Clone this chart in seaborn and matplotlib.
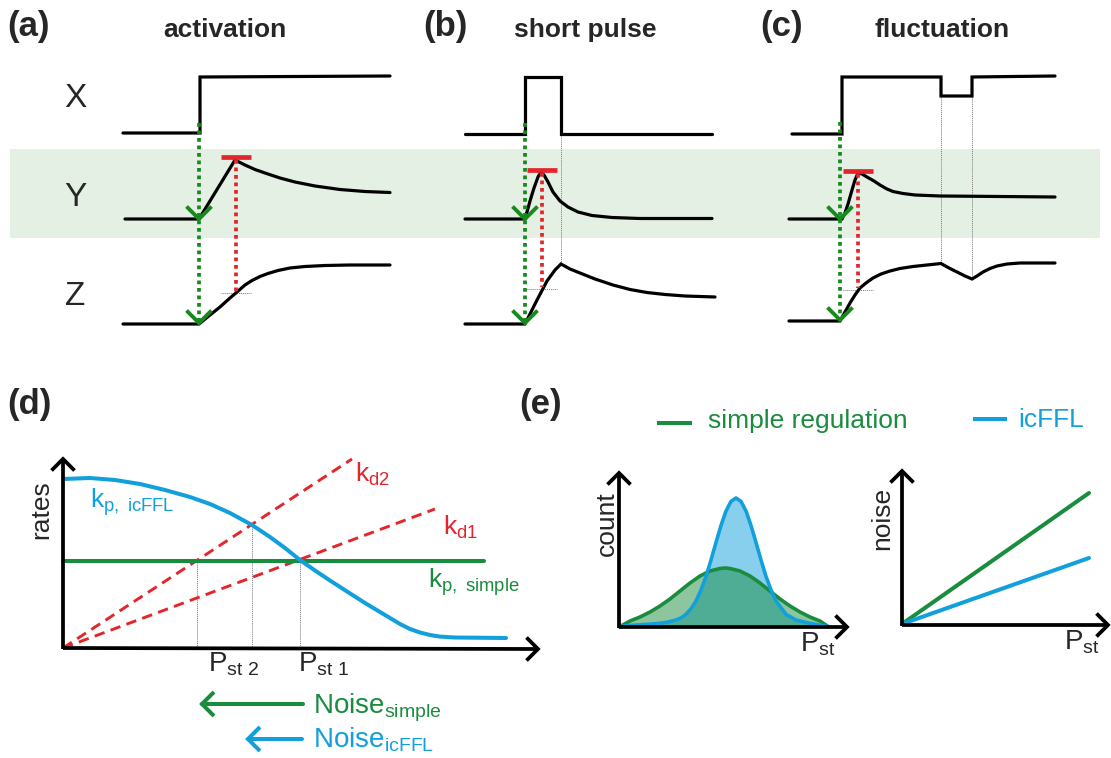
import matplotlib
matplotlib.use("Agg")
import matplotlib.pyplot as plt
import pandas as pd
import seaborn as sns

sns.set_style("white")
plt.rcParams["font.family"] = ["Liberation Sans", "DejaVu Sans"]
plt.rcParams["mathtext.fontset"] = "custom"
plt.rcParams["mathtext.rm"] = "Liberation Sans"
plt.rcParams["mathtext.it"] = "Liberation Sans:italic"
plt.rcParams["mathtext.bf"] = "Liberation Sans:bold"

# ---------------------------------------------------------------
# Schematic data, in canvas units (x to the right, y downwards)
# ---------------------------------------------------------------
BLACK = "#000000"
GREEN_DOT = "#178a1e"
RED = "#e3262b"
GREEN = "#1a8c3e"
BLUE = "#12a0dc"
GREY = "#7a7a7a"
BAND = "#e4f0e4"

# shaded Y row
band_x = [10, 1100]
band_top, band_bottom = 149, 238

# (a) activation
a_X_t = [123, 200, 200, 390]
a_X_v = [133, 133, 77, 76]
a_Y_t = [125, 199, 235, 245, 255, 265, 280, 295, 315, 340, 365, 390]
a_Y_v = [219, 219, 160, 165, 169.5, 173, 178, 182, 186, 189.5, 191.5, 192.5]
a_Z_t = [123, 199, 210, 220, 230, 237, 245, 252, 260, 268, 278, 290, 305, 325, 350, 390]
a_Z_v = [324, 324, 315, 307, 298, 292, 285, 280.5, 276.5, 273.5, 270.5, 268, 266.5, 265.5, 265, 265]

# (b) short pulse
b_X_t = [465, 525, 525, 561, 561, 712]
b_X_v = [134, 134, 77, 77, 134, 134]
b_Y_t = [465, 524, 527, 530, 534, 538, 541, 544, 548, 553, 560, 568, 578, 592, 612, 640, 712]
b_Y_v = [219, 219, 212, 201, 188, 177, 172, 175, 182, 192, 201, 207, 212, 215.5, 217.5, 218.5, 218.5]
b_Z_t = [465, 525, 537, 547, 555, 561, 570, 580, 595, 613, 630, 647, 665, 685, 715]
b_Z_v = [324, 324, 300, 281, 270, 264, 269, 273, 279, 285, 289.5, 292.5, 294.5, 296, 297]

# (c) fluctuation
c_X_t = [792, 842, 842, 941, 941, 972, 972, 1055]
c_X_v = [134, 134, 77, 77, 96, 96, 77, 76]
c_Y_t = [789, 842, 845, 848, 852, 855, 858, 862, 867, 874, 880, 887, 893, 903, 915, 940, 1000, 1055]
c_Y_v = [219, 219, 213, 204, 190, 180, 173, 174, 177, 181, 185, 189, 191.5, 193.5, 195, 196, 196.5, 197]
c_Z_t = [789, 840, 845, 850, 855, 860, 866, 873, 881, 890, 900, 913, 927, 941, 949, 957, 965,
         972, 977, 983, 990, 997, 1007, 1020, 1055]
c_Z_v = [321, 321, 312, 303, 295, 288, 283, 278, 274, 271, 268.5, 266.5, 265, 263.5, 268, 272, 276,
         279, 276, 272, 268.5, 266, 264, 263, 263]

# signal onset (green) and Y peak (red) markers per panel
onset_x = [199, 525, 840]
onset_top = [123, 123, 122]
onset_Y = [219, 219, 219]
onset_Z = [323, 323, 320]
peak_x = [236, 542, 858]
peak_bar_y = [157, 170, 171]
peak_top = [160, 173, 174]
peak_Z = [292, 287, 288]
zref_y = [293, 289, 290]
# pulse edges carried down to Z
edge_x = [561, 941, 972]
edge_top = [134, 96, 96]
edge_bottom = [264, 263, 279]

row_labels = ["X", "Y", "Z"]
row_label_y = [107, 206, 305]
panel_tags = ["(a)", "(b)", "(c)", "(d)", "(e)"]
panel_tag_x = [7, 423, 760, 7, 519]
panel_tag_y = [36, 36, 36, 414, 414]
titles = ["activation", "short pulse", "fluctuation"]
title_x = [225, 585, 942]

# (d) rates vs P_st
d_origin = (63, 648)
d_xaxis_end = (538, 649)
d_yaxis_end = (63, 459)
kp_icffl_x = [63, 90, 115, 140, 165, 190, 210, 230, 252, 270, 285, 300, 315, 330, 347, 365,
              380, 390, 400, 410, 420, 430, 440, 455, 506]
kp_icffl_y = [479, 478, 480, 484, 490, 497, 504, 513, 525, 537, 548, 560, 570.5, 580.5, 591.5, 603,
              612, 618, 624, 629, 632.5, 635, 636.6, 637.5, 638]
kp_simple_x = [63, 484]
kp_simple_y = [561, 561]
kd2_x = [63, 352]
kd2_y = [648, 459]
kd1_x = [63, 435]
kd1_y = [648, 509]
pst_x = [197, 252, 300]
pst_top = [561, 525, 561]
noise_arrow_simple = ([303, 202], [704, 704])
noise_arrow_icffl = ([302, 248], [739, 739])

# (e) distributions and noise
count_origin = (619, 627)
count_x_end = (847, 627)
count_y_end = (619, 473)
dist_simple_x = [620, 630, 640, 650, 660, 670, 680, 690, 700, 710, 720, 725, 730, 740, 750,
                 760, 770, 780, 790, 800, 810, 820, 828]
dist_simple_y = [626.5, 621, 617, 612, 606, 599, 591, 583, 576, 571, 568.5, 568, 568.5, 571, 576,
                 583, 591, 599, 606, 612, 617, 621, 626.5]
dist_icffl_x = [620, 636, 646, 656, 666, 676, 681, 686, 691, 696, 701, 706, 711, 716, 721, 726,
                731, 736, 741, 746, 751, 756, 761, 766, 771, 776, 786, 796, 806, 816, 828]
dist_icffl_y = [626.5, 625, 624.4, 623.7, 622.5, 620, 618, 614.3, 608.8, 601, 590, 576.4, 560,
                542.5, 525.5, 511, 501.4, 498, 501.4, 511, 525.5, 542.5, 560, 576.4, 590, 601,
                614.3, 620, 622.5, 624.4, 626.5]
noise_origin = (902, 625)
noise_x_end = (1108, 625)
noise_y_end = (902, 471)
noise_simple_x = [902, 1089]
noise_simple_y = [624, 493]
noise_icffl_x = [902, 1089]
noise_icffl_y = [624, 558]

# ---------------------------------------------------------------
fig = plt.figure(figsize=(11.11, 7.58), dpi=100)
ax = fig.add_axes([0, 0, 1, 1])


def line(xs, ys, color, lw, **kw):
    df = pd.DataFrame({"x": xs, "y": ys})
    sns.lineplot(data=df, x="x", y="y", ax=ax, sort=False, estimator=None,
                 color=color, lw=lw, **kw)


def vee(x, y, direction, s, color, lw):
    if direction == "down":
        xs, ys = [x - s, x, x + s], [y - s, y, y - s]
    elif direction == "up":
        xs, ys = [x - s, x, x + s], [y + s, y, y + s]
    elif direction == "right":
        xs, ys = [x - s, x, x - s], [y - s, y, y + s]
    else:
        xs, ys = [x + s, x, x + s], [y - s, y, y + s]
    ax.plot(xs, ys, color=color, lw=lw, solid_joinstyle="miter", solid_capstyle="butt", zorder=6)


DOT = (0, (1, 1))
DOT_LW = 2.7

# shaded band
ax.fill_between(band_x, band_top, band_bottom, color=BAND, lw=0, zorder=0)

# time courses
for tx, vx, ty, vy, tz, vz in [(a_X_t, a_X_v, a_Y_t, a_Y_v, a_Z_t, a_Z_v),
                               (b_X_t, b_X_v, b_Y_t, b_Y_v, b_Z_t, b_Z_v),
                               (c_X_t, c_X_v, c_Y_t, c_Y_v, c_Z_t, c_Z_v)]:
    for xs, ys in [(tx, vx), (ty, vy), (tz, vz)]:
        line(xs, ys, BLACK, 2.3, solid_joinstyle="miter", zorder=3)

for i in range(3):
    # onset guide
    ax.plot([onset_x[i], onset_x[i]], [onset_top[i], onset_Z[i]], color=GREEN_DOT, lw=DOT_LW,
            linestyle=DOT, dash_capstyle="butt", zorder=4)
    vee(onset_x[i], onset_Y[i], "down", 12.5, GREEN_DOT, 2.8)
    vee(onset_x[i], onset_Z[i], "down", 12.5, GREEN_DOT, 2.8)
    # peak of Y and the matching Z level
    ax.plot([peak_x[i] - 15, peak_x[i] + 15], [peak_bar_y[i], peak_bar_y[i]], color=RED, lw=3.4,
            solid_capstyle="butt", zorder=5)
    ax.plot([peak_x[i], peak_x[i]], [peak_top[i], peak_Z[i]], color=RED, lw=DOT_LW, linestyle=DOT,
            dash_capstyle="butt", zorder=4)
    ax.plot([peak_x[i] - 15, peak_x[i] + 15], [zref_y[i], zref_y[i]], color=GREY, lw=0.7,
            linestyle=DOT, zorder=2)
    ax.plot([edge_x[i], edge_x[i]], [edge_top[i], edge_bottom[i]], color=GREY, lw=0.7,
            linestyle=DOT, zorder=2)

for lab, yy in zip(row_labels, row_label_y):
    ax.text(75, yy, lab, fontsize=24, ha="center", va="baseline")
for tag, tx, ty in zip(panel_tags, panel_tag_x, panel_tag_y):
    ax.text(tx, ty, tag, fontsize=25, fontweight="bold", ha="left", va="baseline")
for t, tx in zip(titles, title_x):
    ax.text(tx, 37, t, fontsize=19, fontweight="bold", ha="center", va="baseline")

# (d) rates
AXW = 2.7
ax.plot([d_origin[0], d_xaxis_end[0]], [d_origin[1], d_xaxis_end[1]], color=BLACK, lw=AXW,
        solid_capstyle="butt", zorder=5)
ax.plot([d_origin[0], d_yaxis_end[0]], [d_origin[1] + 1, d_yaxis_end[1]], color=BLACK, lw=AXW,
        solid_capstyle="butt", zorder=5)
vee(*d_xaxis_end, "right", 11.5, BLACK, AXW)
vee(*d_yaxis_end, "up", 11.5, BLACK, AXW)
for px_, pt_ in zip(pst_x, pst_top):
    ax.plot([px_, px_], [pt_, d_origin[1]], color=GREY, lw=0.7, linestyle=DOT, zorder=2)
line(kd2_x, kd2_y, RED, 2.1, linestyle=(0, (3.6, 2.2)), zorder=3)
line(kd1_x, kd1_y, RED, 2.1, linestyle=(0, (3.6, 2.2)), zorder=3)
line(kp_simple_x, kp_simple_y, GREEN, 2.9, zorder=3)
line(kp_icffl_x, kp_icffl_y, BLUE, 2.9, zorder=3)

ax.text(41, 510, "rates", fontsize=19, rotation=90, ha="center", va="center")
ax.text(355, 482, r"$\mathregular{k_{d2}}$", fontsize=19, color=RED, ha="left", va="baseline")
ax.text(443, 535, r"$\mathregular{k_{d1}}$", fontsize=19, color=RED, ha="left", va="baseline")
ax.text(428, 588, r"$\mathregular{k_{p,\ simple}}$", fontsize=19, color=GREEN, ha="left",
        va="baseline")
ax.text(90, 508, r"$\mathregular{k_{p,\ icFFL}}$", fontsize=19, color=BLUE, ha="left",
        va="baseline")
ax.text(208, 672, r"$\mathregular{P_{st\ 2}}$", fontsize=20, ha="left", va="baseline")
ax.text(298, 672, r"$\mathregular{P_{st\ 1}}$", fontsize=20, ha="left", va="baseline")

line(*noise_arrow_simple, GREEN, 2.9, zorder=3)
vee(noise_arrow_simple[0][1], noise_arrow_simple[1][1], "left", 12, GREEN, 2.9)
line(*noise_arrow_icffl, BLUE, 2.9, zorder=3)
vee(noise_arrow_icffl[0][1], noise_arrow_icffl[1][1], "left", 12, BLUE, 2.9)
ax.text(313, 713, r"$\mathregular{Noise_{simple}}$", fontsize=20, color=GREEN, ha="left",
        va="baseline")
ax.text(313, 748, r"$\mathregular{Noise_{icFFL}}$", fontsize=20, color=BLUE, ha="left",
        va="baseline")

# (e) legend
ax.plot([657, 692], [423, 423], color=GREEN, lw=2.9, solid_capstyle="butt")
ax.text(708, 428, "simple regulation", fontsize=19, color=GREEN, ha="left", va="baseline")
ax.plot([973, 1007], [419, 419], color=BLUE, lw=2.9, solid_capstyle="butt")
ax.text(1018, 427, "icFFL", fontsize=19, color=BLUE, ha="left", va="baseline")

# (e) distributions
ax.fill_between(dist_icffl_x, dist_icffl_y, count_origin[1], color=BLUE, alpha=0.5, lw=0,
                zorder=2)
ax.fill_between(dist_simple_x, dist_simple_y, count_origin[1], color=GREEN, alpha=0.5, lw=0,
                zorder=2)
line(dist_simple_x, dist_simple_y, GREEN, 2.6, zorder=3)
line(dist_icffl_x, dist_icffl_y, BLUE, 2.6, zorder=3)
ax.plot([count_origin[0], count_x_end[0]], [count_origin[1], count_x_end[1]], color=BLACK,
        lw=AXW, solid_capstyle="butt", zorder=5)
ax.plot([count_origin[0], count_y_end[0]], [count_origin[1] + 1, count_y_end[1]], color=BLACK,
        lw=AXW, solid_capstyle="butt", zorder=5)
vee(*count_x_end, "right", 11.5, BLACK, AXW)
vee(*count_y_end, "up", 11.5, BLACK, AXW)
ax.text(607, 524, "count", fontsize=19, rotation=90, ha="center", va="center")
ax.text(800, 652, r"$\mathregular{P_{st}}$", fontsize=20, ha="left", va="baseline")

# (e) noise
line(noise_simple_x, noise_simple_y, GREEN, 2.9, zorder=3)
line(noise_icffl_x, noise_icffl_y, BLUE, 2.9, zorder=3)
ax.plot([noise_origin[0], noise_x_end[0]], [noise_origin[1], noise_x_end[1]], color=BLACK,
        lw=AXW, solid_capstyle="butt", zorder=5)
ax.plot([noise_origin[0], noise_y_end[0]], [noise_origin[1] + 1, noise_y_end[1]], color=BLACK,
        lw=AXW, solid_capstyle="butt", zorder=5)
vee(*noise_x_end, "right", 11.5, BLACK, AXW)
vee(*noise_y_end, "up", 11.5, BLACK, AXW)
ax.text(882, 518, "noise", fontsize=19, rotation=90, ha="center", va="center")
ax.text(1064, 650, r"$\mathregular{P_{st}}$", fontsize=20, ha="left", va="baseline")

ax.set_xlim(0, 1111)
ax.set_ylim(758, 0)
ax.axis("off")
fig.savefig("out.png", dpi=100)
